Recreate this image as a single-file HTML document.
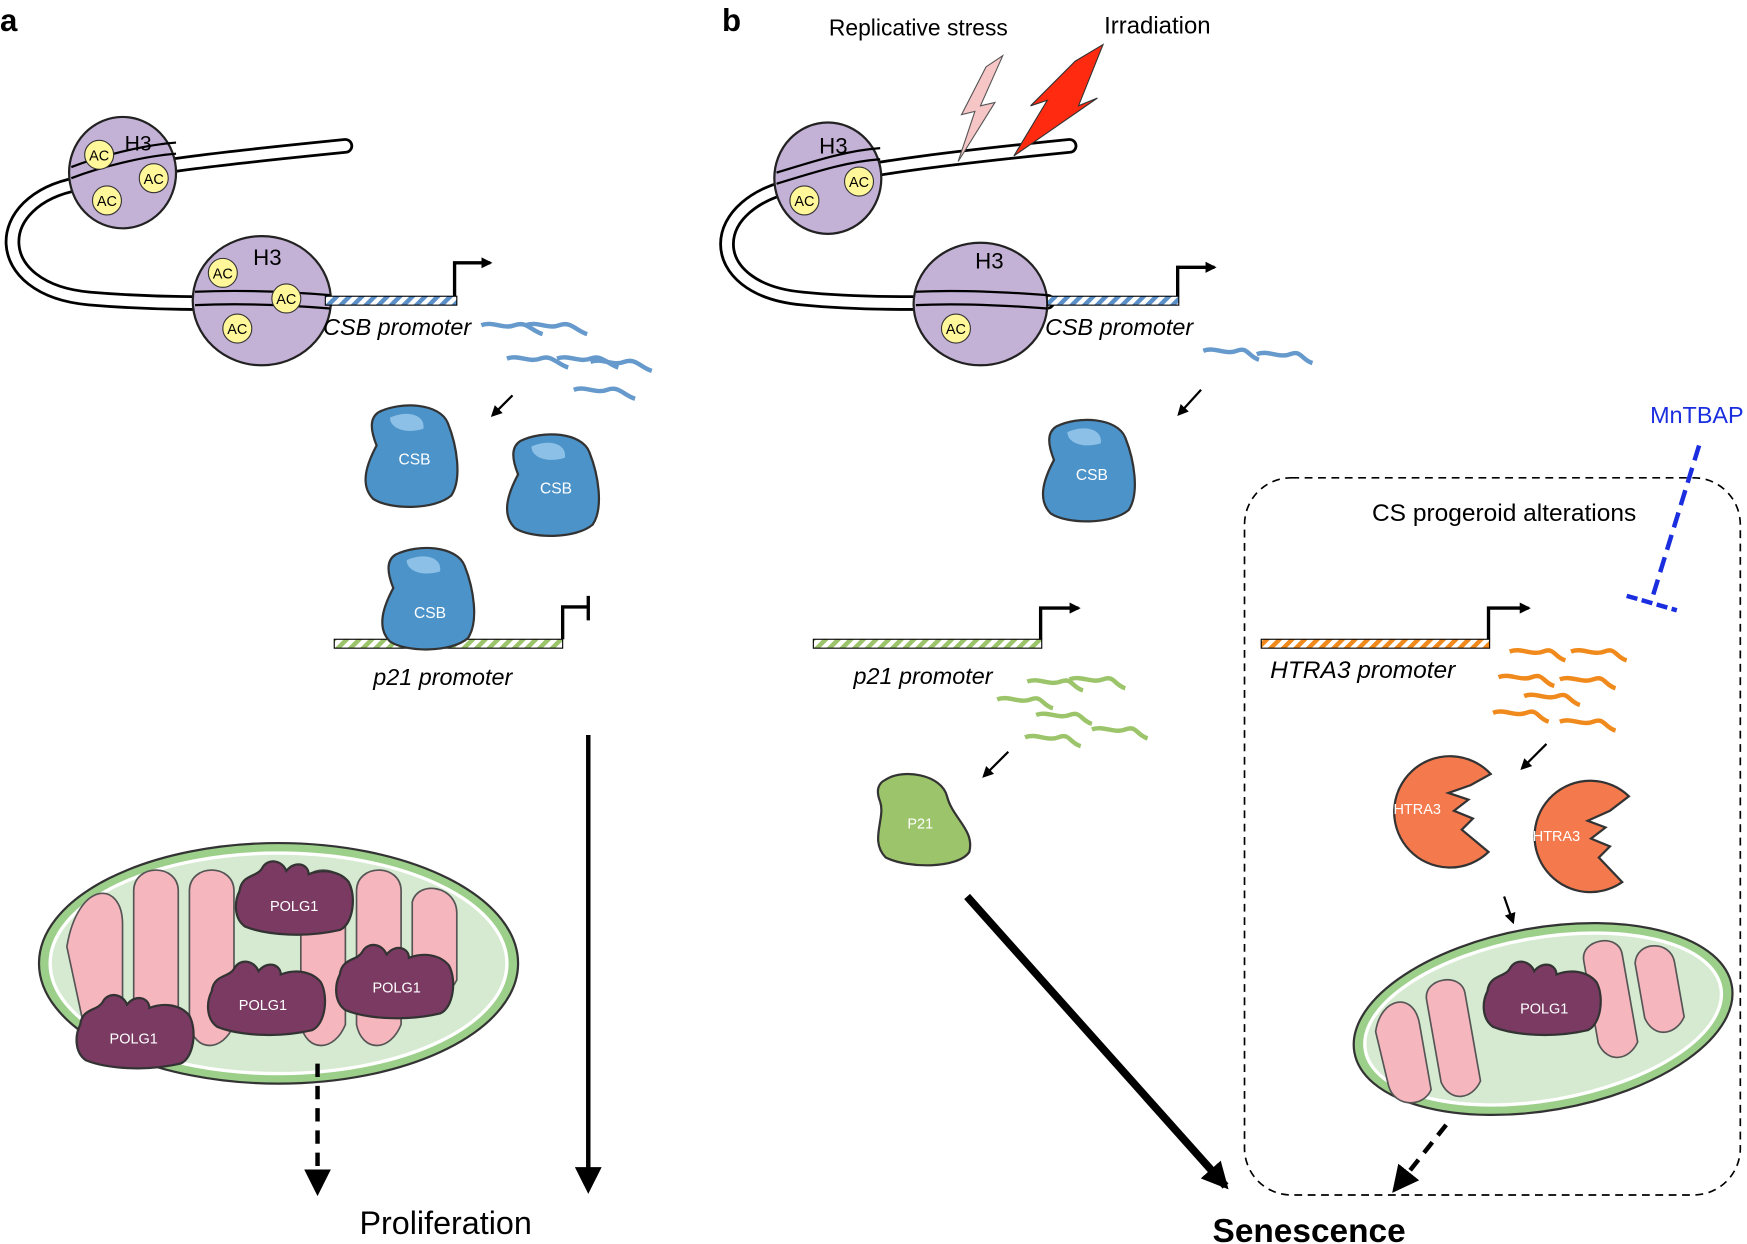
<!DOCTYPE html>
<html><head><meta charset="utf-8"><style>
html,body{margin:0;padding:0;background:#fff;}
svg{display:block;}
text{font-family:"Liberation Sans",sans-serif;}
</style></head><body>
<svg width="1747" height="1244" viewBox="0 0 1568 1117" preserveAspectRatio="none" xmlns="http://www.w3.org/2000/svg">
<defs>
<pattern id="pb" width="8" height="8" patternUnits="userSpaceOnUse" patternTransform="rotate(45)"><rect width="8" height="8" fill="#fff"/><rect width="4" height="8" fill="#5b8fc7"/></pattern>
<pattern id="pg" width="8" height="8" patternUnits="userSpaceOnUse" patternTransform="rotate(45)"><rect width="8" height="8" fill="#fff"/><rect width="4" height="8" fill="#9cc46a"/></pattern>
<pattern id="po" width="8" height="8" patternUnits="userSpaceOnUse" patternTransform="rotate(45)"><rect width="8" height="8" fill="#fff"/><rect width="4" height="8" fill="#f08a1c"/></pattern>
<marker id="ah" markerWidth="10" markerHeight="10" refX="8" refY="5" orient="auto" markerUnits="userSpaceOnUse"><path d="M0,0 L10,5 L0,10 z" fill="#000"/></marker>
<marker id="ahb" markerWidth="24" markerHeight="24" refX="20" refY="12" orient="auto" markerUnits="userSpaceOnUse"><path d="M0,0 L24,12 L0,24 z" fill="#000"/></marker>
<g id="csb"><path d="M-30,-40 C-10,-50 25,-48 32,-30 C40,-10 45,20 35,35 C20,48 -20,48 -35,38 C-48,25 -40,5 -32,-10 C-38,-25 -38,-35 -30,-40 z" fill="#4b93c9" stroke="#333" stroke-width="2"/><path d="M-20,-35 C-5,-42 12,-38 10,-25 C-5,-20 -20,-25 -20,-35z" fill="#8cc0e6"/></g>
<g id="polg"><path d="M-50,-10 C-48,-25 -35,-22 -30,-30 C-25,-40 -12,-38 -8,-28 C0,-38 12,-34 12,-25 C25,-30 40,-28 48,-18 C55,-5 52,20 40,25 C10,32 -25,30 -45,22 C-55,15 -55,0 -50,-10z" fill="#7a3a62" stroke="#333" stroke-width="2"/></g>
</defs>

<text x="0" y="28" font-size="28" font-weight="bold">a</text>
<text x="648" y="28" font-size="28" font-weight="bold">b</text>

<!-- Panel a DNA -->
<g fill="none" stroke-linecap="round">
<path d="M310,131 C220,140 120,150 70,165 C-10,180 -10,260 80,268 C150,274 200,272 292,271" stroke="#000" stroke-width="14"/>
<path d="M310,131 C220,140 120,150 70,165 C-10,180 -10,260 80,268 C150,274 200,272 292,271" stroke="#fff" stroke-width="9"/>
</g>
<ellipse cx="110" cy="155" rx="48" ry="50" fill="#c4b1d6" stroke="#222" stroke-width="2"/>
<path d="M64,150 C90,140 130,130 158,128 M64,160 C90,150 130,140 158,138" stroke="#000" stroke-width="2" fill="none"/>
<text x="124" y="135" font-size="19" text-anchor="middle">H3</text>
<ellipse cx="235" cy="270" rx="62" ry="58" fill="#c4b1d6" stroke="#222" stroke-width="2"/>
<path d="M175,262 C220,260 260,262 296,265 M175,274 C220,272 260,274 296,277" stroke="#000" stroke-width="2" fill="none"/>
<text x="240" y="238" font-size="20" text-anchor="middle">H3</text>
<g font-size="13" text-anchor="middle">
<circle cx="89" cy="139" r="13" fill="#fff79a" stroke="#333"/><text x="89" y="144">AC</text>
<circle cx="138" cy="160" r="13" fill="#fff79a" stroke="#333"/><text x="138" y="165">AC</text>
<circle cx="96" cy="180" r="13" fill="#fff79a" stroke="#333"/><text x="96" y="185">AC</text>
<circle cx="200" cy="245" r="13" fill="#fff79a" stroke="#333"/><text x="200" y="250">AC</text>
<circle cx="257" cy="268" r="13" fill="#fff79a" stroke="#333"/><text x="257" y="273">AC</text>
<circle cx="213" cy="295" r="13" fill="#fff79a" stroke="#333"/><text x="213" y="300">AC</text>
</g>
<rect x="292" y="266" width="118" height="8" fill="url(#pb)" stroke="#000" stroke-width="1"/>
<path d="M408,266 V236 H440" stroke="#000" stroke-width="3" fill="none" marker-end="url(#ah)"/>
<text x="290" y="301" font-size="21" font-style="italic">CSB promoter</text>
<g stroke="#6699cc" stroke-width="4" fill="none">
<path d="M432,292 c10,-4 20,4 30,0 s15,5 25,8"/>
<path d="M472,292 c10,-4 20,4 30,0 s15,5 25,8"/>
<path d="M455,322 c10,-4 20,4 30,0 s15,5 25,8"/>
<path d="M500,322 c10,-4 20,4 30,0 s15,5 25,8"/>
<path d="M515,350 c10,-4 20,4 30,0 s15,5 25,8"/>
<path d="M530,325 c10,-4 20,4 30,0 s15,5 25,8"/>
</g>
<line x1="460" y1="355" x2="442" y2="373" stroke="#000" stroke-width="2" marker-end="url(#ah)"/>
<use href="#csb" x="370" y="410"/><text x="372" y="417" font-size="14" fill="#fff" text-anchor="middle">CSB</text>
<use href="#csb" x="497" y="436"/><text x="499" y="443" font-size="14" fill="#fff" text-anchor="middle">CSB</text>
<rect x="300" y="574" width="205" height="8" fill="url(#pg)" stroke="#000" stroke-width="1"/>
<use href="#csb" x="385" y="538"/><text x="386" y="555" font-size="14" fill="#fff" text-anchor="middle">CSB</text>
<path d="M505,574 V545 H528 M528,535 V557" stroke="#000" stroke-width="3" fill="none"/>
<text x="335" y="615" font-size="21" font-style="italic">p21 promoter</text>
<line x1="528" y1="660" x2="528" y2="1068" stroke="#000" stroke-width="4" marker-end="url(#ahb)"/>
<!-- mito a -->
<ellipse cx="250" cy="865" rx="215" ry="108" fill="#9ccf8a" stroke="#333" stroke-width="2"/>
<ellipse cx="250" cy="865" rx="205" ry="99" fill="#d5ead0" stroke="#fff" stroke-width="3"/>
<g fill="#f6b6be" stroke="#555" stroke-width="1.5">
<path d="M60,850 C70,790 110,790 110,830 L110,920 C110,950 80,945 75,920z"/>
<path d="M120,800 C120,775 160,775 160,800 L160,930 C150,950 125,945 120,920z"/>
<path d="M170,800 C170,775 210,775 210,800 L210,920 C200,945 175,945 170,920z"/>
<path d="M270,800 C270,775 310,775 310,800 L310,920 C300,945 275,945 270,920z"/>
<path d="M320,800 C320,775 360,775 360,800 L360,920 C350,945 325,945 320,920z"/>
<path d="M370,810 C375,790 410,795 410,820 L410,880 C400,900 375,900 370,880z"/>
</g>
<use href="#polg" x="265" y="810"/><text x="264" y="818" font-size="13" fill="#fff" text-anchor="middle">POLG1</text>
<use href="#polg" x="240" y="900"/><text x="236" y="907" font-size="13" fill="#fff" text-anchor="middle">POLG1</text>
<use href="#polg" x="355" y="885"/><text x="356" y="891" font-size="13" fill="#fff" text-anchor="middle">POLG1</text>
<use href="#polg" x="122" y="930"/><text x="120" y="937" font-size="13" fill="#fff" text-anchor="middle">POLG1</text>
<line x1="285" y1="955" x2="285" y2="1070" stroke="#000" stroke-width="4" stroke-dasharray="12,8" marker-end="url(#ahb)"/>
<text x="400" y="1108" font-size="29" text-anchor="middle">Proliferation</text>

<!-- Panel b -->
<text x="744" y="32" font-size="20.5">Replicative stress</text>
<text x="991" y="30" font-size="21.5">Irradiation</text>
<g fill="none" stroke-linecap="round">
<path d="M960,131 C870,140 780,150 720,165 C630,180 630,260 720,268 C780,274 840,272 940,271" stroke="#000" stroke-width="14"/>
<path d="M960,131 C870,140 780,150 720,165 C630,180 630,260 720,268 C780,274 840,272 940,271" stroke="#fff" stroke-width="9"/>
</g>
<polygon points="900,50 880,95 893,92 860,145 875,100 863,103 885,60" fill="#f6c6c6" stroke="#555"/>
<polygon points="990,40 968,95 985,88 910,140 940,90 925,95 965,55" fill="#ff2a10" stroke="#333"/>
<ellipse cx="743" cy="160" rx="48" ry="50" fill="#c4b1d6" stroke="#222" stroke-width="2"/>
<path d="M697,155 C730,145 760,135 790,133 M697,165 C730,155 760,145 790,143" stroke="#000" stroke-width="2" fill="none"/>
<text x="748" y="138" font-size="20" text-anchor="middle">H3</text>
<ellipse cx="880" cy="273" rx="60" ry="55" fill="#c4b1d6" stroke="#222" stroke-width="2"/>
<path d="M822,262 C860,260 900,262 940,265 M822,274 C860,272 900,274 940,277" stroke="#000" stroke-width="2" fill="none"/>
<text x="888" y="241" font-size="20" text-anchor="middle">H3</text>
<g font-size="13" text-anchor="middle">
<circle cx="771" cy="163" r="13" fill="#fff79a" stroke="#333"/><text x="771" y="168">AC</text>
<circle cx="722" cy="180" r="13" fill="#fff79a" stroke="#333"/><text x="722" y="185">AC</text>
<circle cx="858" cy="295" r="13" fill="#fff79a" stroke="#333"/><text x="858" y="300">AC</text>
</g>
<rect x="940" y="266" width="118" height="8" fill="url(#pb)" stroke="#000" stroke-width="1"/>
<path d="M1057,266 V240 H1090" stroke="#000" stroke-width="3" fill="none" marker-end="url(#ah)"/>
<text x="938" y="301" font-size="21" font-style="italic">CSB promoter</text>
<g stroke="#6699cc" stroke-width="4" fill="none">
<path d="M1080,315 c10,-4 20,4 30,0 s10,5 20,8"/>
<path d="M1128,318 c10,-4 20,4 30,0 s10,5 20,8"/>
</g>
<line x1="1078" y1="350" x2="1058" y2="372" stroke="#000" stroke-width="2" marker-end="url(#ah)"/>
<use href="#csb" x="978" y="423"/><text x="980" y="431" font-size="14" fill="#fff" text-anchor="middle">CSB</text>
<rect x="730" y="574" width="205" height="8" fill="url(#pg)" stroke="#000" stroke-width="1"/>
<path d="M934,574 V546 H968" stroke="#000" stroke-width="3" fill="none" marker-end="url(#ah)"/>
<text x="766" y="614" font-size="21" font-style="italic">p21 promoter</text>
<g stroke="#9cc46a" stroke-width="4" fill="none">
<path d="M922,612 c10,-4 20,4 30,0 s10,5 20,8"/>
<path d="M960,610 c10,-4 20,4 30,0 s10,5 20,8"/>
<path d="M895,628 c10,-4 20,4 30,0 s10,5 20,8"/>
<path d="M930,642 c10,-4 20,4 30,0 s10,5 20,8"/>
<path d="M980,655 c10,-4 20,4 30,0 s10,5 20,8"/>
<path d="M920,662 c10,-4 20,4 30,0 s10,5 20,8"/>
</g>
<line x1="905" y1="675" x2="883" y2="697" stroke="#000" stroke-width="2" marker-end="url(#ah)"/>
<path d="M795,700 C810,690 845,695 850,715 C855,735 875,745 870,765 C860,780 815,780 795,770 C780,755 795,735 790,720 C786,710 788,703 795,700z" fill="#9cc46a" stroke="#333" stroke-width="2"/>
<text x="826" y="744" font-size="13" fill="#fff" text-anchor="middle">P21</text>
<line x1="868" y1="805" x2="1100" y2="1065" stroke="#000" stroke-width="7" marker-end="url(#ahb)"/>
<text x="1175" y="1115" font-size="30" font-weight="bold" text-anchor="middle">Senescence</text>
<rect x="1117" y="429" width="445" height="644" rx="42" fill="none" stroke="#000" stroke-width="1.5" stroke-dasharray="7,5"/>
<text x="1350" y="468" font-size="22" text-anchor="middle">CS progeroid alterations</text>
<text x="1523" y="380" font-size="21" fill="#1a2ee0" text-anchor="middle">MnTBAP</text>
<line x1="1525" y1="400" x2="1482" y2="540" stroke="#1a2ee0" stroke-width="4" stroke-dasharray="14,7"/>
<line x1="1460" y1="535" x2="1505" y2="548" stroke="#1a2ee0" stroke-width="4" stroke-dasharray="10,4"/>
<rect x="1132" y="574" width="205" height="8" fill="url(#po)" stroke="#000" stroke-width="1"/>
<path d="M1336,574 V546 H1372" stroke="#000" stroke-width="3" fill="none" marker-end="url(#ah)"/>
<text x="1140" y="609" font-size="22" font-style="italic">HTRA3 promoter</text>
<g stroke="#f08a1c" stroke-width="4" fill="none">
<path d="M1355,585 c10,-4 20,4 30,0 s10,5 20,8"/>
<path d="M1410,585 c10,-4 20,4 30,0 s10,5 20,8"/>
<path d="M1345,608 c10,-4 20,4 30,0 s10,5 20,8"/>
<path d="M1368,625 c10,-4 20,4 30,0 s10,5 20,8"/>
<path d="M1400,610 c10,-4 20,4 30,0 s10,5 20,8"/>
<path d="M1400,648 c10,-4 20,4 30,0 s10,5 20,8"/>
<path d="M1340,640 c10,-4 20,4 30,0 s10,5 20,8"/>
</g>
<line x1="1388" y1="668" x2="1366" y2="690" stroke="#000" stroke-width="2" marker-end="url(#ah)"/>
<path d="M1338,695 A50,50 0 1 0 1336,765 L1312,745 L1322,735 L1305,728 L1318,718 L1300,712 L1320,705 Z" fill="#f47a4e" stroke="#333" stroke-width="2"/>
<text x="1272" y="731" font-size="13" fill="#fff" text-anchor="middle">HTRA3</text>
<path d="M1462,715 A50,50 0 1 0 1456,792 L1435,770 L1445,760 L1428,753 L1441,743 L1425,737 L1445,728 Z" fill="#f47a4e" stroke="#333" stroke-width="2"/>
<text x="1397" y="755" font-size="13" fill="#fff" text-anchor="middle">HTRA3</text>
<line x1="1350" y1="805" x2="1358" y2="828" stroke="#000" stroke-width="2" marker-end="url(#ah)"/>
<g transform="rotate(-10 1385 915)">
<ellipse cx="1385" cy="915" rx="172" ry="82" fill="#9ccf8a" stroke="#333" stroke-width="2"/>
<ellipse cx="1385" cy="915" rx="162" ry="73" fill="#d5ead0" stroke="#fff" stroke-width="3"/>
<g fill="#f6b6be" stroke="#555" stroke-width="1.5">
<path d="M1235,900 C1245,870 1275,870 1275,900 L1275,960 C1265,975 1240,970 1238,950z"/>
<path d="M1285,880 C1285,860 1320,860 1320,880 L1320,960 C1310,975 1290,975 1285,955z"/>
<path d="M1430,870 C1430,850 1465,850 1465,870 L1465,950 C1455,965 1435,965 1430,945z"/>
<path d="M1475,880 C1480,860 1510,865 1510,885 L1510,935 C1500,950 1480,950 1475,930z"/>
</g>
</g>
<use href="#polg" x="1385" y="900"/><text x="1386" y="910" font-size="13" fill="#fff" text-anchor="middle">POLG1</text>
<line x1="1298" y1="1010" x2="1252" y2="1068" stroke="#000" stroke-width="4" stroke-dasharray="12,8" marker-end="url(#ahb)"/>
</svg>
</body></html>
